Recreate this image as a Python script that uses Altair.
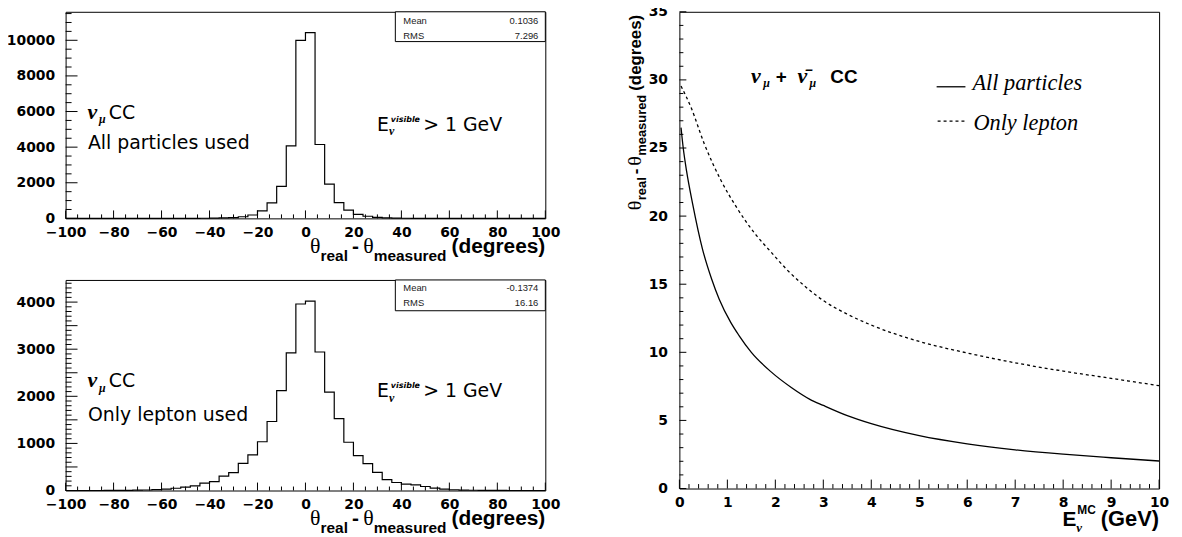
import altair as alt
import pandas as pd

# ---------------- data ----------------
bin_edges = list(range(-100, 101, 4))          # 50 bins of 4 degrees
counts_all = [0, 0, 0, 0, 0, 0, 0, 0, 0, 0, 0, 0, 0,
              3, 6, 12, 25, 45, 90, 190, 420, 870, 1800, 4070, 10000,
              10430, 4150, 1920, 880, 460, 230, 120, 60, 30, 15, 8, 4, 2,
              0, 0, 0, 0, 0, 0, 0, 0, 0, 0, 0, 0]
counts_lep = [0, 0, 0, 0,
              1, 2, 4, 7, 11, 18, 28, 48, 70, 100, 155, 190, 305, 380, 575, 755,
              1035, 1465, 2120, 2920, 3960,
              4020, 2940, 2090, 1525, 1025, 740, 570, 385, 230, 170, 135, 120, 85,
              50, 28, 16, 9, 5, 3, 2, 1,
              0, 0, 0, 0]
stats_all = ["0.1036", "7.296"]
stats_lep = ["-0.1374", "16.16"]

hist_x_labels = [-100, -80, -60, -40, -20, 0, 20, 40, 60, 80, 100]
top_y_labels = [0, 2000, 4000, 6000, 8000, 10000]
bot_y_labels = [0, 500, 1000, 1500, 2000, 2500, 3000, 3500, 4000]

e_all = [0.034, 0.08, 0.15, 0.276, 0.48, 0.67, 0.83, 1.07, 1.24, 1.5, 1.9, 2.34,
         2.72, 3.0, 3.5, 4.0, 5.0, 6.0, 7.0, 8.0, 9.0, 10.0]
theta_all = [26.5, 25.0, 23.3, 20.9, 17.6, 15.4, 13.9, 12.2, 11.25, 10.0, 8.6, 7.4,
             6.55, 6.1, 5.35, 4.76, 3.88, 3.28, 2.84, 2.52, 2.26, 2.02]
e_lep = [0.034, 0.24, 0.52, 0.87, 1.2, 1.6, 1.9, 2.26, 2.6, 3.0, 3.5, 4.0,
         5.0, 6.0, 7.0, 8.0, 9.0, 10.0]
theta_lep = [29.55, 28.0, 25.3, 22.6, 20.6, 18.6, 17.4, 16.0, 14.9, 13.8, 12.8, 12.0,
             10.8, 9.95, 9.23, 8.62, 8.09, 7.55]

right_x_labels = [0, 1, 2, 3, 4, 5, 6, 7, 8, 9, 10]
right_y_labels = [0, 5, 10, 15, 20, 25, 30, 35]

# ---------------- styling ----------------
W = 483
H_TOP, H_BOT, H_R = 208, 212, 480
ANN = "DejaVu Sans"
TICKF = "DejaVu Sans"
HELV = "Liberation Sans"
SERIF = "Liberation Serif, DejaVu Serif"
TIMES = "Liberation Serif"

HB = {" ": 278, "(": 333, ")": 333, "-": 333, "+": 584, ">": 584, "E": 667, "G": 778,
      "M": 833, "C": 722, "V": 667, "a": 556, "d": 611, "e": 556, "g": 611, "l": 278,
      "m": 889, "r": 389, "s": 556, "u": 611}


def wb(s, size):
    return sum(HB.get(c, 600) for c in s) * size / 1000.0


ONE = pd.DataFrame({"k": [0]})


def txt(s, x, y, size, font, weight="normal", style="normal", align="left",
        baseline="alphabetic", angle=0, color="black"):
    return alt.Chart(ONE).mark_text(
        text=s, font=font, fontSize=size, fontWeight=weight, fontStyle=style,
        align=align, baseline=baseline, angle=angle, color=color
    ).encode(x=alt.value(x), y=alt.value(y))


def pin(x, y):
    # tiny white rule, only used to fix the layout bounds of a panel
    return alt.Chart(ONE).mark_rule(color="white", strokeWidth=1).encode(
        x=alt.value(x), x2=alt.value(x + 1), y=alt.value(y))


AXB = dict(labelFont=TICKF, labelFontWeight="bold", labelFontSize=14, labelColor="black",
           ticks=False, tickSize=0, domain=False, grid=False, labelFlush=False,
           labelOverlap=False, title=None, format="d")


def tick_rules(values, scale, orient, length, H):
    df = pd.DataFrame({("x" if orient == "x" else "y"): values})
    ch = alt.Chart(df).mark_rule(color="black", strokeWidth=1)
    if orient == "x":
        return ch.encode(x=alt.X("x:Q", scale=scale), y=alt.value(H), y2=alt.value(H - length))
    return ch.encode(y=alt.Y("y:Q", scale=scale), x=alt.value(0), x2=alt.value(length))


def hist_panel(counts, ymax, ylabels, yminor_step, stats, line2, H, ann_y, is_top):
    hdf = pd.DataFrame({"x": bin_edges, "y": counts + [counts[-1]]})
    xs = alt.Scale(domain=[-100, 100], nice=False, zero=False)
    ys = alt.Scale(domain=[0, ymax], nice=False)
    hist = alt.Chart(hdf).mark_line(interpolate="step-after", color="black", strokeWidth=1.2).encode(
        x=alt.X("x:Q", scale=xs, axis=alt.Axis(values=hist_x_labels, labelPadding=7.5, **AXB)),
        y=alt.Y("y:Q", scale=ys, axis=alt.Axis(values=ylabels, labelPadding=11, **AXB)),
    )
    x_minor = [v for v in range(-100, 101, 5) if v not in hist_x_labels]
    y_minor = [v for v in range(0, int(ymax) + 1, yminor_step) if v not in ylabels]
    layers = [hist,
              tick_rules(hist_x_labels, xs, "x", 8, H),
              tick_rules(x_minor, xs, "x", 4, H),
              tick_rules(ylabels, ys, "y", 12, H),
              tick_rules(y_minor, ys, "y", 6, H)]
    # statistics box
    box_bottom = 30 if is_top else 31
    layers.append(alt.Chart(ONE).mark_rect(fill="white", stroke="black", strokeWidth=1).encode(
        x=alt.value(332), x2=alt.value(W), y=alt.value(0), y2=alt.value(box_bottom)))
    r1, r2 = (8.9, 24) if is_top else (8, 23)
    layers += [txt("Mean", 340, r1, 9.5, HELV, baseline="middle", color="#222"),
               txt("RMS", 340, r2, 9.5, HELV, baseline="middle", color="#222"),
               txt(stats[0], 476, r1, 9.5, HELV, align="right", baseline="middle", color="#222"),
               txt(stats[1], 476, r2, 9.5, HELV, align="right", baseline="middle", color="#222")]
    # annotations
    b1, b2, b3 = ann_y
    layers += [txt("ν", 22, b1, 22, SERIF, "bold", "italic"),
               txt("μ", 33.5, b1 + 4.5, 12, SERIF, "bold", "italic"),
               txt("CC", 43.5, b1, 19, ANN),
               txt(line2, 22.5, b2, 19, ANN),
               txt("E", 313.5, b3, 19, ANN),
               txt("ν", 325.5, b3 + 4.5, 12, SERIF, "bold", "italic"),
               txt("visible", 327.5, b3 - 9.5, 8, ANN, "bold", "italic"),
               txt("> 1 GeV", 360, b3, 19, ANN)]
    # x-axis title  θreal - θmeasured (degrees), right aligned on the axis end
    bl, sb = H + 35, H + 43
    r = W
    layers.append(txt("(degrees)", r, bl, 21, HELV, "bold", align="right"))
    r -= wb("(degrees)", 21) + 5
    layers.append(txt("measured", r, sb, 15.5, HELV, "bold", align="right"))
    r -= wb("measured", 15.5)
    layers.append(txt("θ", r, bl, 22, SERIF, align="right"))
    r -= 11 + 4
    layers.append(txt("-", r, bl, 21, HELV, "bold", align="right"))
    r -= wb("-", 21) + 4
    layers.append(txt("real", r, sb, 15.5, HELV, "bold", align="right"))
    r -= wb("real", 15.5)
    layers.append(txt("θ", r, bl, 22, SERIF, align="right"))
    # layout pins
    layers += [pin(-60, 0), pin(W + 16, 0)]
    if is_top:
        layers += [pin(0, -8), pin(0, H + 48)]
    return alt.layer(*layers).properties(width=W, height=H)


top = hist_panel(counts_all, 11600, top_y_labels, 500, stats_all, "All particles used",
                 H_TOP, (107.5, 138, 120), True)
bottom = hist_panel(counts_lep, 4470, bot_y_labels, 100, stats_lep, "Only lepton used",
                    H_BOT, (108, 142.5, 118), False)

# ---------------- right panel ----------------
rx = alt.Scale(domain=[0, 10], nice=False, zero=False)
ry = alt.Scale(domain=[0, 35], nice=False)
df_all = pd.DataFrame({"x": e_all, "y": theta_all})
df_lep = pd.DataFrame({"x": e_lep, "y": theta_lep})
line_all = alt.Chart(df_all).mark_line(interpolate="monotone", color="black", strokeWidth=1.3).encode(
    x=alt.X("x:Q", scale=rx, axis=alt.Axis(values=right_x_labels, labelPadding=7.5, **AXB)),
    y=alt.Y("y:Q", scale=ry, axis=alt.Axis(values=right_y_labels, labelPadding=12, **AXB)),
)
line_lep = alt.Chart(df_lep).mark_line(interpolate="monotone", color="black", strokeWidth=1.3,
                                       strokeDash=[3, 3]).encode(
    x=alt.X("x:Q", scale=rx), y=alt.Y("y:Q", scale=ry))

rx_minor = [round(i * 0.2, 1) for i in range(51) if i % 5 != 0]
ry_minor = [v for v in range(0, 36) if v % 5 != 0]
r_layers = [line_all, line_lep,
            tick_rules(right_x_labels, rx, "x", 9, H_R),
            tick_rules(rx_minor, rx, "x", 4.5, H_R),
            tick_rules(right_y_labels, ry, "y", 7, H_R),
            tick_rules(ry_minor, ry, "y", 4, H_R)]
# reaction label
r_layers += [txt("ν", 72, 71.5, 22, SERIF, "bold", "italic"),
             txt("μ", 84.5, 76, 12, SERIF, "bold", "italic"),
             txt("+", 97, 71.5, 19, HELV, "bold"),
             txt("ν\u0304", 119, 71.5, 22, SERIF, "bold", "italic"),
             txt("μ", 131, 76, 12, SERIF, "bold", "italic"),
             txt("CC", 152, 71.5, 19, HELV, "bold")]
# legend
r_layers += [alt.Chart(ONE).mark_rule(color="black", strokeWidth=1.3).encode(
                 x=alt.value(259), x2=alt.value(288), y=alt.value(75.5)),
             alt.Chart(ONE).mark_rule(color="black", strokeWidth=1.3, strokeDash=[3, 3]).encode(
                 x=alt.value(260), x2=alt.value(289), y=alt.value(110)),
             txt("All particles", 295, 78.5, 22.5, TIMES, style="italic"),
             txt("Only lepton", 296, 119.5, 22.5, TIMES, style="italic")]
# x title  E_nu^MC (GeV)
r = W
r_layers.append(txt("(GeV)", r, H_R + 38, 22, HELV, "bold", align="right"))
r -= wb("(GeV)", 22) + 5
r_layers.append(txt("MC", r, H_R + 26, 12, HELV, "bold", align="right"))
r -= wb("MC", 12) + 1
r_layers.append(txt("ν", r, H_R + 44, 13, SERIF, "bold", "italic"))
r_layers.append(txt("E", r, H_R + 38, 21, HELV, "bold", align="right"))
# y title  θreal-θmeasured (degrees), rotated, starting at the top of the axis
bx, sx = -39, -34
yy = 3
yy += wb("(degrees)", 17)
r_layers.append(txt("(degrees)", bx, yy, 17, HELV, "bold", align="left", angle=270))
yy += 4 + wb("measured", 13)
r_layers.append(txt("measured", sx, yy, 13, HELV, "bold", align="left", angle=270))
yy += 10
r_layers.append(txt("θ", bx, yy, 20, SERIF, align="left", angle=270))
yy += 3 + wb("-", 17)
r_layers.append(txt("-", bx, yy, 17, HELV, "bold", align="left", angle=270))
yy += 3 + wb("real", 13)
r_layers.append(txt("real", sx, yy, 13, HELV, "bold", align="left", angle=270))
yy += 10
r_layers.append(txt("θ", bx, yy, 20, SERIF, align="left", angle=270))
r_layers += [pin(-58, 0), pin(0, -8)]
right = alt.layer(*r_layers).properties(width=W, height=H_R)

left = alt.vconcat(top, bottom, spacing=12)
chart = alt.hconcat(left, right, spacing=58).properties(
    padding={"left": -3, "top": -7, "right": 4, "bottom": 0}
).configure(background="white").configure_view(stroke="black", strokeWidth=1)

chart.save("out.html", embed_options={"renderer": "svg", "actions": False})
